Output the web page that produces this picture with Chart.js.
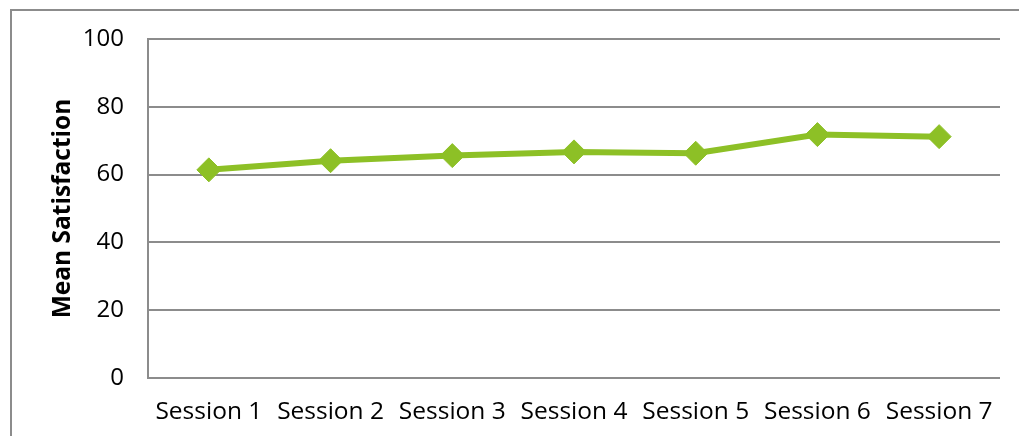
<!DOCTYPE html>
<html>
<head>
<meta charset="utf-8">
<script src="https://cdn.jsdelivr.net/npm/chart.js@4/dist/chart.umd.min.js"></script>
<style>
  html, body { margin: 0; padding: 0; background: #fff; overflow: hidden; }
  #frame {
    position: absolute; left: 10px; top: 9px; width: 1100px; height: 500px;
    border: 2px solid #8c8c8c; box-sizing: border-box;
  }
  #wrap { position: absolute; left: 0; top: 0; width: 1019px; height: 436px; }
</style>
</head>
<body>
<div id="frame"></div>
<div id="wrap"><canvas id="grafico"></canvas></div>
<script>
// Mean satisfaction per session
const sessoes = ['Session 1', 'Session 2', 'Session 3', 'Session 4', 'Session 5', 'Session 6', 'Session 7'];
const satisfacao = [61.4, 64.1, 65.6, 66.7, 66.3, 71.8, 71.2];
const ticksY = [0, 20, 40, 60, 80, 100];

const verde = '#8dc026';
const cinza = '#8c8c8c';

document.addEventListener('DOMContentLoaded', function () {
  const ctx = document.getElementById('grafico').getContext('2d');

  new Chart(ctx, {
    type: 'line',
    data: {
      labels: sessoes,
      datasets: [{
        label: 'Mean Satisfaction',
        data: satisfacao,
        borderColor: verde,
        backgroundColor: verde,
        borderWidth: 6,
        pointStyle: 'rectRot',
        pointRadius: 12,
        pointBorderWidth: 1,
        pointBackgroundColor: verde,
        pointBorderColor: verde,
        tension: 0
      }]
    },
    options: {
      responsive: true,
      maintainAspectRatio: false,
      animation: false,
      layout: { padding: { top: 39, right: 19, left: 0, bottom: 0 } },
      plugins: {
        legend: { display: false },
        tooltip: { enabled: false }
      },
      scales: {
        x: {
          offset: true,
          grid: { display: false, drawTicks: false },
          border: { display: false },
          ticks: {
            color: '#000',
            padding: 19,
            maxRotation: 0,
            font: { family: 'Open Sans', size: 24.5 }
          },
          afterFit: function (scale) { scale.height = 58; }
        },
        y: {
          min: 0,
          max: 100,
          afterBuildTicks: function (scale) {
            scale.ticks = ticksY.map(v => ({ value: v }));
          },
          grid: { color: cinza, lineWidth: 2, drawTicks: false },
          border: { display: true, color: cinza, width: 2 },
          ticks: {
            color: '#000',
            padding: 24,
            font: { family: 'Open Sans', size: 24 }
          },
          title: {
            display: true,
            text: 'Mean Satisfaction',
            color: '#000',
            padding: { top: 48, bottom: 0 },
            font: { family: 'Open Sans', size: 24.5, weight: 'bold' }
          },
          afterFit: function (scale) { scale.width = 148; }
        }
      }
    }
  });
});
</script>
</body>
</html>
